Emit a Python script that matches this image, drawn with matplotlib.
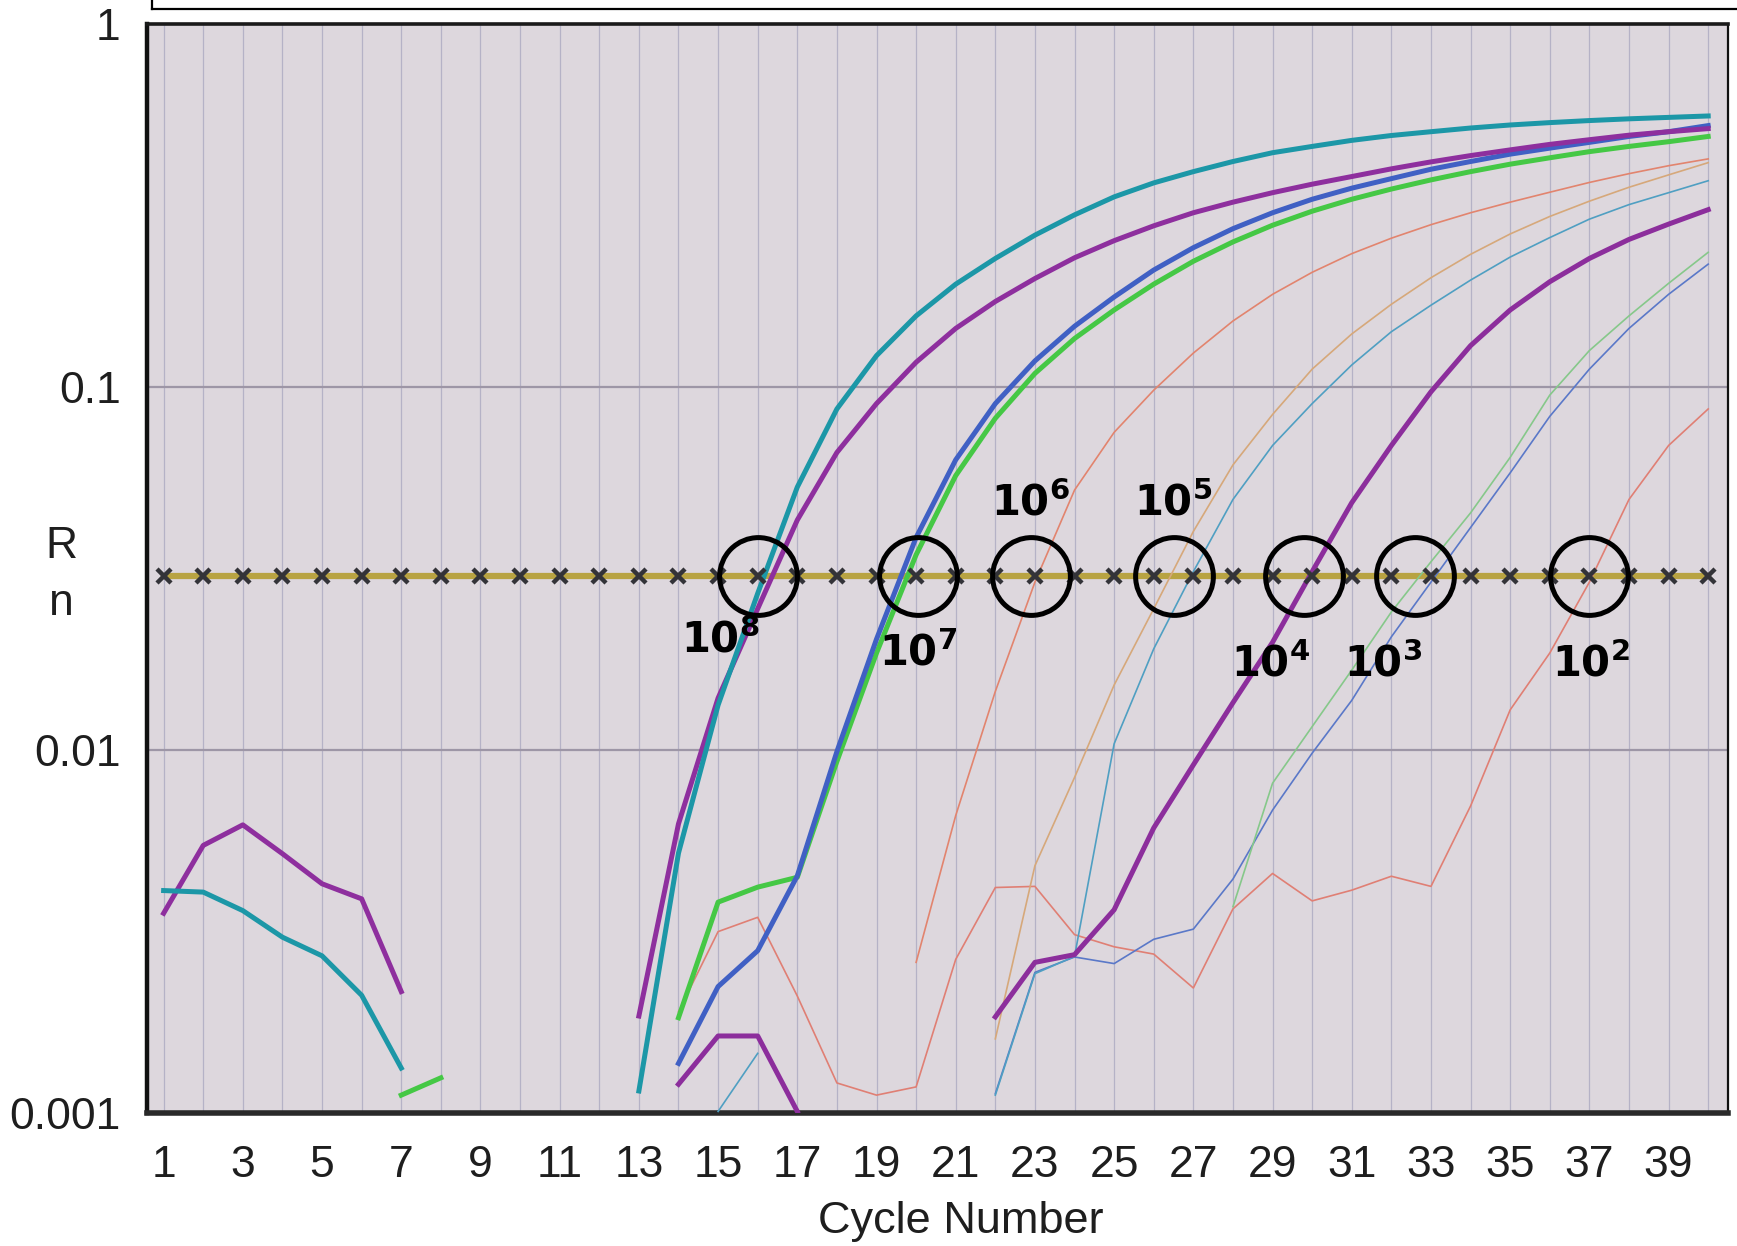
import numpy as np
import matplotlib
matplotlib.use('Agg')
import matplotlib.pyplot as plt
from matplotlib.lines import Line2D

nan = np.nan

# cycle numbers and Rn readings (log scale), nan = below axis / not drawn
cycles = np.arange(1, 41)
threshold = 0.0301

teal_1e8 = [0.0041, 0.00406, 0.00361, 0.00305, 0.00271, 0.00211, 0.00133, nan, nan, nan,
            nan, nan, 0.00115, 0.0052, 0.0133, 0.027, 0.053, 0.087, 0.122, 0.157,
            0.192, 0.226, 0.262, 0.298, 0.334, 0.365, 0.392, 0.418, 0.442, 0.46,
            0.478, 0.493, 0.505, 0.517, 0.527, 0.535, 0.542, 0.548, 0.553, 0.558]
purple_1e8 = [0.00355, 0.00546, 0.00622, 0.00518, 0.00428, 0.00389, 0.00216, nan, nan, nan,
              nan, nan, 0.00185, 0.00626, 0.0139, 0.0245, 0.043, 0.066, 0.09, 0.117,
              0.145, 0.172, 0.199, 0.227, 0.253, 0.278, 0.302, 0.323, 0.343, 0.362,
              0.38, 0.399, 0.417, 0.434, 0.45, 0.466, 0.48, 0.494, 0.505, 0.515]
blue_1e7 = [nan, nan, nan, nan, nan, nan, nan, nan, nan, nan,
            nan, nan, nan, 0.00137, 0.00223, 0.0028, 0.0045, 0.0099, 0.0202, 0.0385,
            0.063, 0.09, 0.118, 0.147, 0.177, 0.21, 0.242, 0.273, 0.302, 0.329,
            0.353, 0.375, 0.398, 0.418, 0.438, 0.455, 0.472, 0.49, 0.505, 0.525]
green_1e7 = [nan, nan, nan, nan, nan, nan, 0.00112, 0.00125, nan, nan,
             nan, nan, nan, 0.00183, 0.00381, 0.00419, 0.00446, 0.0093, 0.0185, 0.0345,
             0.057, 0.082, 0.109, 0.136, 0.163, 0.192, 0.222, 0.251, 0.279, 0.305,
             0.329, 0.351, 0.372, 0.392, 0.411, 0.428, 0.445, 0.46, 0.474, 0.49]
salmon_1e6 = [nan, nan, nan, nan, nan, nan, nan, nan, nan, nan,
              nan, nan, nan, nan, nan, nan, nan, nan, nan, 0.0026,
              0.0066, 0.0145, 0.029, 0.052, 0.075, 0.098, 0.124, 0.152, 0.18, 0.207,
              0.233, 0.257, 0.28, 0.302, 0.323, 0.344, 0.366, 0.387, 0.407, 0.425]
tan_1e5 = [nan, nan, nan, nan, nan, nan, nan, nan, nan, nan,
           nan, nan, nan, nan, nan, nan, nan, nan, nan, nan,
           nan, 0.0016, 0.0048, 0.0084, 0.0151, 0.0245, 0.04, 0.061, 0.084, 0.112,
           0.14, 0.169, 0.2, 0.232, 0.264, 0.295, 0.325, 0.355, 0.384, 0.415]
lblue_1e5 = [nan, nan, nan, nan, nan, nan, nan, nan, nan, nan,
             nan, nan, nan, nan, 0.00101, 0.00146, nan, nan, nan, nan,
             nan, 0.00112, 0.00242, 0.0027, 0.0104, 0.019, 0.031, 0.049, 0.069, 0.09,
             0.115, 0.142, 0.168, 0.197, 0.228, 0.258, 0.29, 0.318, 0.343, 0.37]
purple_1e4 = [nan, nan, nan, nan, nan, nan, nan, nan, nan, nan,
              nan, nan, nan, 0.0012, 0.00163, 0.00163, 0.00101, nan, nan, nan,
              nan, 0.00184, 0.0026, 0.00273, 0.00363, 0.0061, 0.0091, 0.0135, 0.0198, 0.031,
              0.048, 0.069, 0.097, 0.13, 0.163, 0.195, 0.226, 0.255, 0.281, 0.308]
lgreen_1e3 = [nan, nan, nan, nan, nan, nan, nan, nan, nan, nan,
              nan, nan, nan, nan, nan, nan, nan, nan, nan, nan,
              nan, nan, nan, nan, nan, nan, nan, 0.0037, 0.0081, 0.0116,
              0.0166, 0.024, 0.033, 0.045, 0.064, 0.095, 0.126, 0.157, 0.193, 0.235]
blue_1e3 = [nan, nan, nan, nan, nan, nan, nan, nan, nan, nan,
            nan, nan, nan, nan, nan, nan, nan, nan, nan, nan,
            nan, 0.00113, 0.00244, 0.00269, 0.00258, 0.00301, 0.00321, 0.00441, 0.00683, 0.0098,
            0.0137, 0.0205, 0.029, 0.041, 0.058, 0.083, 0.112, 0.145, 0.18, 0.218]
salmon_1e2 = [nan, nan, nan, nan, nan, nan, nan, nan, nan, nan,
              nan, nan, nan, 0.0019, 0.00316, 0.00346, 0.0021, 0.00121, 0.00112, 0.00118,
              0.00265, 0.00418, 0.00421, 0.0031, 0.00287, 0.00274, 0.00221, 0.00365, 0.00457, 0.00384,
              0.00411, 0.00449, 0.00421, 0.00701, 0.0129, 0.0185, 0.029, 0.049, 0.069, 0.087]

# circled threshold crossings and their dilution labels
ct_cycles = [16.0, 20.05, 22.9, 26.5, 29.8, 32.6, 37.0]
dilutions = ['8', '7', '6', '5', '4', '3', '2']
label_x = [15.05, 20.05, 22.9, 26.5, 28.95, 31.8, 37.05]
label_y = [0.0201, 0.0185, 0.0477, 0.0477, 0.0172, 0.0172, 0.0172]

xtick_vals = list(range(1, 40, 2))
ytick_vals = [0.001, 0.01, 0.1, 1]
ytick_text = ['0.001', '0.01', '0.1', '1']

W, H = 1737, 1246
fig = plt.figure(figsize=(W / 100, H / 100), dpi=100)
fig.patch.set_facecolor('white')
ax = fig.add_axes([147 / W, 1 - 1113 / H, (1728 - 147) / W, (1113 - 24) / H])
ax.set_facecolor('#ddd7dd')
ax.set_yscale('log')
ax.set_ylim(0.001, 1)
ax.set_xlim(0.58, 40.5)

ax.set_xticks(cycles, minor=True)
ax.set_xticks(xtick_vals)
ax.set_xticklabels([str(v) for v in xtick_vals])
ax.set_yticks(ytick_vals)
ax.set_yticklabels(ytick_text)
ax.yaxis.set_minor_locator(matplotlib.ticker.NullLocator())
ax.tick_params(axis='both', which='both', length=0, labelsize=32, labelcolor='#1e1e1e')
ax.tick_params(axis='y', pad=19)
ax.tick_params(axis='x', pad=23)
for lab in ax.get_xticklabels() + ax.get_yticklabels():
    lab.set_fontfamily('Liberation Sans')

ax.grid(axis='x', which='both', color='#b5b2c6', lw=0.9)
ax.grid(axis='y', which='major', color='#9d96a6', lw=1.6)
ax.set_axisbelow(True)

for side, lw, col in [('left', 3.2, '#111111'), ('bottom', 4.0, '#2a2a2a'),
                      ('top', 2.6, '#1a1a1a'), ('right', 1.6, '#111111')]:
    ax.spines[side].set_linewidth(lw)
    ax.spines[side].set_color(col)

# threshold line
ax.plot(cycles, [threshold] * len(cycles), color='#b8a342', lw=4.5, zorder=2)

thin = [(salmon_1e2, '#e07f74'), (blue_1e3, '#5a78c8'), (lgreen_1e3, '#86c88a'),
        (lblue_1e5, '#4f9fc2'), (tan_1e5, '#d6a87a'), (salmon_1e6, '#e2846e')]
for vals, col in thin:
    ax.plot(cycles, vals, color=col, lw=1.2, zorder=3)

thick = [(purple_1e4, '#8c2e9c'), (green_1e7, '#45c845'), (blue_1e7, '#4060c4'),
         (purple_1e8, '#8e2f9e'), (teal_1e8, '#1c97a7')]
for vals, col in thick:
    ax.plot(cycles, vals, color=col, lw=3.6, zorder=4, solid_joinstyle='round')

ax.plot(cycles, [threshold] * len(cycles), ls='none', marker='x', ms=10, mew=3.2,
        color='#333338', zorder=5)
ax.plot(ct_cycles, [threshold] * len(ct_cycles), ls='none', marker='o', ms=56,
        mfc='none', mec='black', mew=3.6, zorder=6)

plt.rcParams['mathtext.fontset'] = 'dejavusans'
for x, y, d in zip(label_x, label_y, dilutions):
    ax.text(x, y, r'$\mathbf{10^{%s}}$' % d, fontsize=30, ha='center', va='center',
            color='black', zorder=7)

fig.text(961 / W, 1 - 1221 / H, 'Cycle Number', fontsize=32.5, family='Liberation Sans',
         ha='center', va='center', color='#1e1e1e')
fig.text(61 / W, 1 - 546 / H, 'R', fontsize=32, family='Liberation Sans',
         ha='center', va='center', color='#1e1e1e')
fig.text(61 / W, 1 - 604 / H, 'n', fontsize=32, family='Liberation Sans',
         ha='center', va='center', color='#1e1e1e')

# edge of the cut-off legend box above the plot
fig.add_artist(Line2D([152 / W, 1], [1 - 9 / H, 1 - 9 / H], transform=fig.transFigure,
                      color='black', lw=1.6))
fig.add_artist(Line2D([152 / W, 152 / W], [1, 1 - 9 / H], transform=fig.transFigure,
                      color='black', lw=1.6))

fig.savefig('out.png', dpi=100)
